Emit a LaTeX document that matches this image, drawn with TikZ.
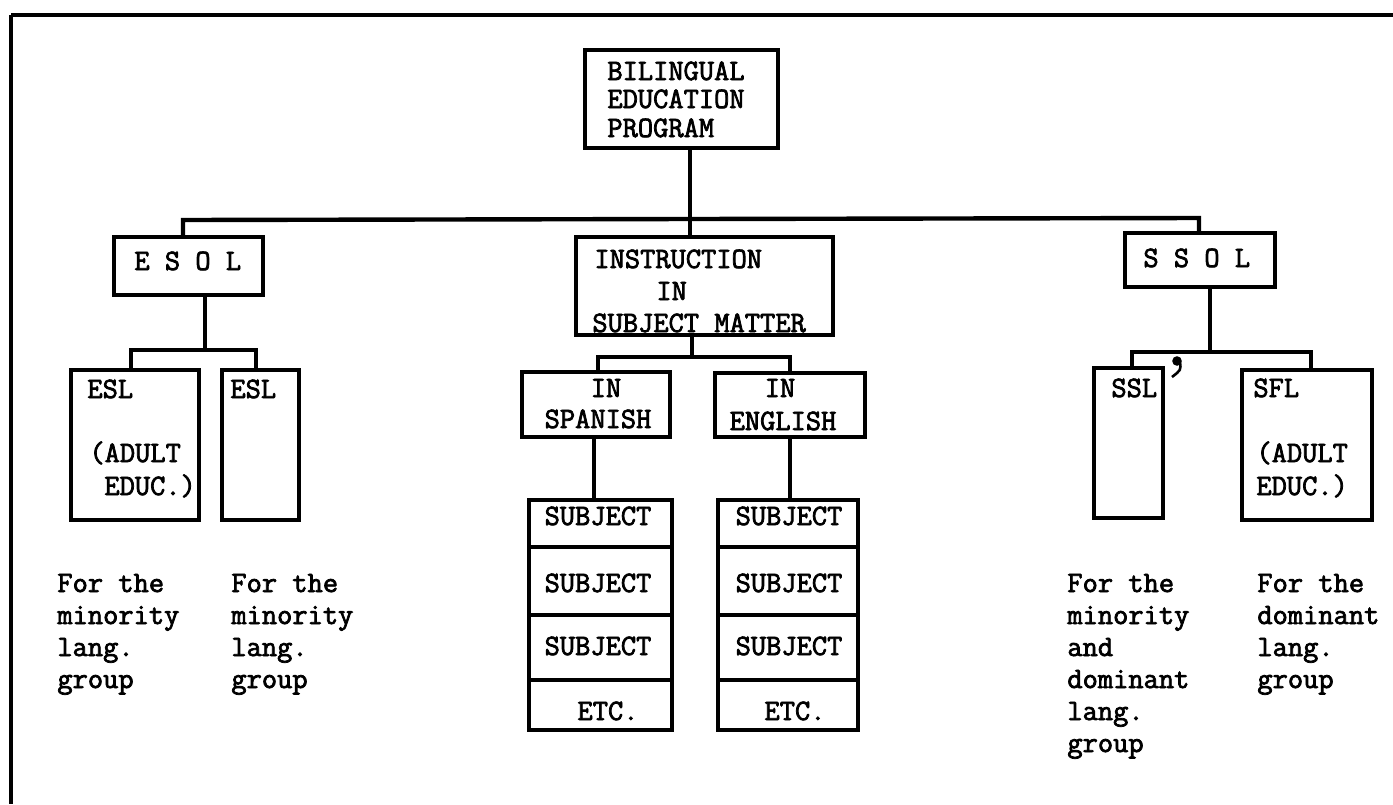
\documentclass[tikz,border=0pt]{standalone}
\usepackage{fontspec}
\newfontfamily\tw[FakeBold=2.5]{Latin Modern Mono}
\usetikzlibrary{fit}
\begin{document}
\begin{tikzpicture}[x=0.5pt,y=-0.5pt,
  boxn/.style={draw,line width=2.2pt,rectangle,inner sep=0pt},
  conn/.style={line width=2.2pt,line join=miter},
  txt/.style={font=\tw\fontsize{14.8}{16}\selectfont,inner sep=0pt,anchor=base west,align=left},
  ctxt/.style={font=\tw\fontsize{14.8}{16}\selectfont,inner sep=0pt,anchor=base}]
\useasboundingbox (0,0) rectangle (1393,804);
% frame
\coordinate (fTL) at (11,15);
\draw[line width=2pt] (fTL) -- (1393,15);
\draw[line width=2pt] (fTL) -- (11,804);
% boxes
\node[boxn,fit={(585,50)(778,148)}] (bep) {};
\node[boxn,fit={(114,237)(263,295)}] (esol) {};
\node[boxn,fit={(576,237)(833,335)}] (instr) {};
\node[boxn,fit={(1125,233)(1275,287)}] (ssol) {};
\node[boxn,fit={(71,370)(199,520)}] (esla) {};
\node[boxn,fit={(222,370)(299,520)}] (eslb) {};
\node[boxn,fit={(522,372)(670,437)}] (spa) {};
\node[boxn,fit={(715,373)(865,437)}] (eng) {};
\node[boxn,fit={(1094,368)(1163,518)}] (ssl) {};
\node[boxn,fit={(1242,370)(1372,520)}] (sfl) {};
% subject stacks
\node[boxn,fit={(529,500)(672,547)}] (s1) {};
\node[boxn,fit={(529,547)(672,615)}] (s2) {};
\node[boxn,fit={(529,615)(672,680)}] (s3) {};
\node[boxn,fit={(529,680)(672,730)}] (s4) {};
\node[boxn,fit={(718,500)(858,547)}] (e1) {};
\node[boxn,fit={(718,547)(858,615)}] (e2) {};
\node[boxn,fit={(718,615)(858,680)}] (e3) {};
\node[boxn,fit={(718,680)(858,730)}] (e4) {};
% connectors
\coordinate (bL) at (183,220);
\coordinate (bM) at (690,220);
\coordinate (bR) at (1199,218);
\draw[conn] (bep.south -| bM) -- (instr.north -| bM);
\draw[conn] (esol.north -| bL) -- (bL) -- (bR) -- (ssol.north -| bR);
% ESOL branch
\coordinate (eJ) at (205,350);
\coordinate (eL) at (131,350);
\coordinate (eR) at (256,350);
\draw[conn] (esol.south -| eJ) -- (eJ);
\draw[conn] (esla.north -| eL) -- (eL) -- (eR) -- (eslb.north -| eR);
% instruction branch
\coordinate (iJ) at (692,357);
\coordinate (iL) at (598,357);
\coordinate (iR) at (790,357);
\draw[conn] (instr.south -| iJ) -- (iJ);
\draw[conn] (spa.north -| iL) -- (iL) -- (iR) -- (eng.north -| iR);
\coordinate (sV) at (594,470);
\coordinate (eV) at (790,470);
\draw[conn] (spa.south -| sV) -- (s1.north -| sV);
\draw[conn] (eng.south -| eV) -- (e1.north -| eV);
% SSOL branch
\coordinate (sJ) at (1210,352);
\coordinate (sL) at (1132,352);
\coordinate (sR) at (1311,352);
\draw[conn] (ssol.south -| sJ) -- (sJ);
\draw[conn] (ssl.north -| sL) -- (sL) -- (sR) -- (sfl.north -| sR);
% stray mark
\fill (1177,361) circle[radius=2.4pt];
\draw[line width=1.3pt] (1180,362) .. controls (1181,370) .. (1172,377);
% texts
\node[txt] (t1) at (607,80) {BILINGUAL};
\node[txt] (t2) at (607,108) {EDUCATION};
\node[txt] (t3) at (607,137) {PROGRAM};
\node[txt] (t4) at (134,270) {E S O L};
\node[txt] (t5) at (1143,267) {S S O L};
\node[txt] (t6) at (594,268) {INSTRUCTION};
\node[txt] (t7) at (656,300) {IN};
\node[txt] (t8) at (592,332) {SUBJECT MATTER};
\node[txt] (t9) at (87,398) {ESL};
\node[txt] (t10) at (89,462) {(ADULT};
\node[txt] (t11) at (104,495) {EDUC.)};
\node[txt] (t12) at (230,398) {ESL};
\node[txt] (t13) at (1111,397) {SSL};
\node[txt] (t14) at (1253,397) {SFL};
\node[txt] (t15) at (1256,462) {(ADULT};
\node[txt] (t16) at (1256,495) {EDUC.)};
\node[ctxt] (t17) at (606,397) {IN};
\node[ctxt] (t18) at (598,428) {SPANISH};
\node[ctxt] (t19) at (780,397) {IN};
\node[ctxt] (t20) at (783,430) {ENGLISH};
\node[ctxt] (t21) at (598,525) {SUBJECT};
\node[ctxt] (t22) at (598,592) {SUBJECT};
\node[ctxt] (t23) at (598,655) {SUBJECT};
\node[ctxt] (t24) at (608,720) {ETC.};
\node[ctxt] (t25) at (789,525) {SUBJECT};
\node[ctxt] (t26) at (789,592) {SUBJECT};
\node[ctxt] (t27) at (789,655) {SUBJECT};
\node[ctxt] (t28) at (795,720) {ETC.};
\node[txt] (c1) at (57,688) {For the\\minority\\lang.\\group};
\node[txt] (c2) at (231,688) {For the\\minority\\lang.\\group};
\node[txt] (c3) at (1067,752) {For the\\minority\\and\\dominant\\lang.\\group};
\node[txt] (c4) at (1257,688) {For the\\dominant\\lang.\\group};
\end{tikzpicture}
\end{document}
